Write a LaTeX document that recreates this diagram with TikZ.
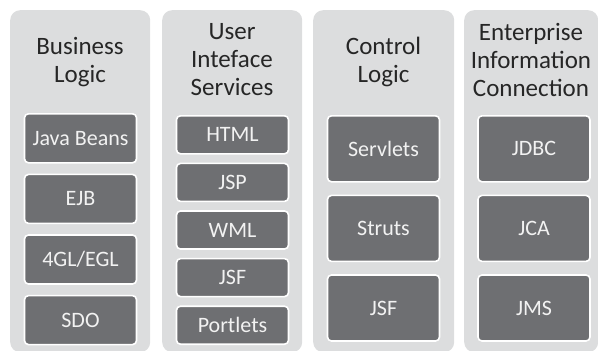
\documentclass[tikz,border=0pt]{standalone}
\usepackage{fontspec}
\setmainfont{Carlito}
\usetikzlibrary{positioning}
\definecolor{panelgray}{HTML}{DCDDDE}
\definecolor{boxgray}{HTML}{6E6F72}
\definecolor{headtext}{HTML}{262626}
\definecolor{boxtext}{HTML}{F2F2F2}

\begin{document}
\begin{tikzpicture}[
  x=1pt,
  y=-1pt,
  panel/.style={fill=panelgray,rounded corners=10pt,anchor=north west,inner sep=0pt,minimum height=342pt},
  title/.style={text=headtext,font=\fontsize{25}{28}\selectfont,align=center},
  item/.style={draw=white,line width=1.6pt,fill=boxgray,rounded corners=4pt,text=boxtext,
    font=\fontsize{22}{24}\selectfont,inner sep=0pt,minimum width=112pt}
]%
  \useasboundingbox (0,0) rectangle (598,351);

  % four columns
  \node[panel,minimum width=140pt] (pBus)  at (10,10)  {};
  \node[panel,minimum width=140pt] (pUI)   at (162,10) {};
  \node[panel,minimum width=141pt] (pCtl)  at (313,10) {};
  \node[panel,minimum width=134pt] (pEnt)  at (464,10) {};

  \node[title] (tBus) at (80,62)    {Business\\Logic};
  \node[title] (tUI)  at (232,60)   {User\\Inteface\\Services};
  \node[title] (tCtl) at (383.5,62) {Control\\Logic};
  \node[title] (tEnt) at (531,60)   {Enterprise\\Information\\Connection};

  % business logic
  \node[item,minimum height=49pt,anchor=north] (bJava) at (80.5,113) {Java Beans};
  \node[item,minimum height=49pt,below=10pt of bJava] (bEjb) {EJB};
  \node[item,minimum height=49pt,below=10pt of bEjb]  (bEgl) {4GL/EGL};
  \node[item,minimum height=49pt,below=10pt of bEgl]  (bSdo) {SDO};

  % user interface services
  \node[item,minimum height=38pt,anchor=north] (uHtml) at (232.5,115) {HTML};
  \node[item,minimum height=38pt,below=8pt of uHtml] (uJsp) {JSP};
  \node[item,minimum height=38pt,below=8pt of uJsp]  (uWml) {WML};
  \node[item,minimum height=38pt,below=8pt of uWml]  (uJsf) {JSF};
  \node[item,minimum height=38pt,below=8pt of uJsf]  (uPort) {Portlets};

  % control logic
  \node[item,minimum height=66pt,anchor=north] (cServ) at (383.5,115) {Servlets};
  \node[item,minimum height=66pt,below=12pt of cServ] (cStr) {Struts};
  \node[item,minimum height=66pt,below=12pt of cStr]  (cJsf) {JSF};

  % enterprise information connection
  \node[item,minimum height=66pt,anchor=north] (eJdbc) at (534,115) {JDBC};
  \node[item,minimum height=66pt,below=12pt of eJdbc] (eJca) {JCA};
  \node[item,minimum height=66pt,below=12pt of eJca]  (eJms) {JMS};

\end{tikzpicture}
\end{document}
